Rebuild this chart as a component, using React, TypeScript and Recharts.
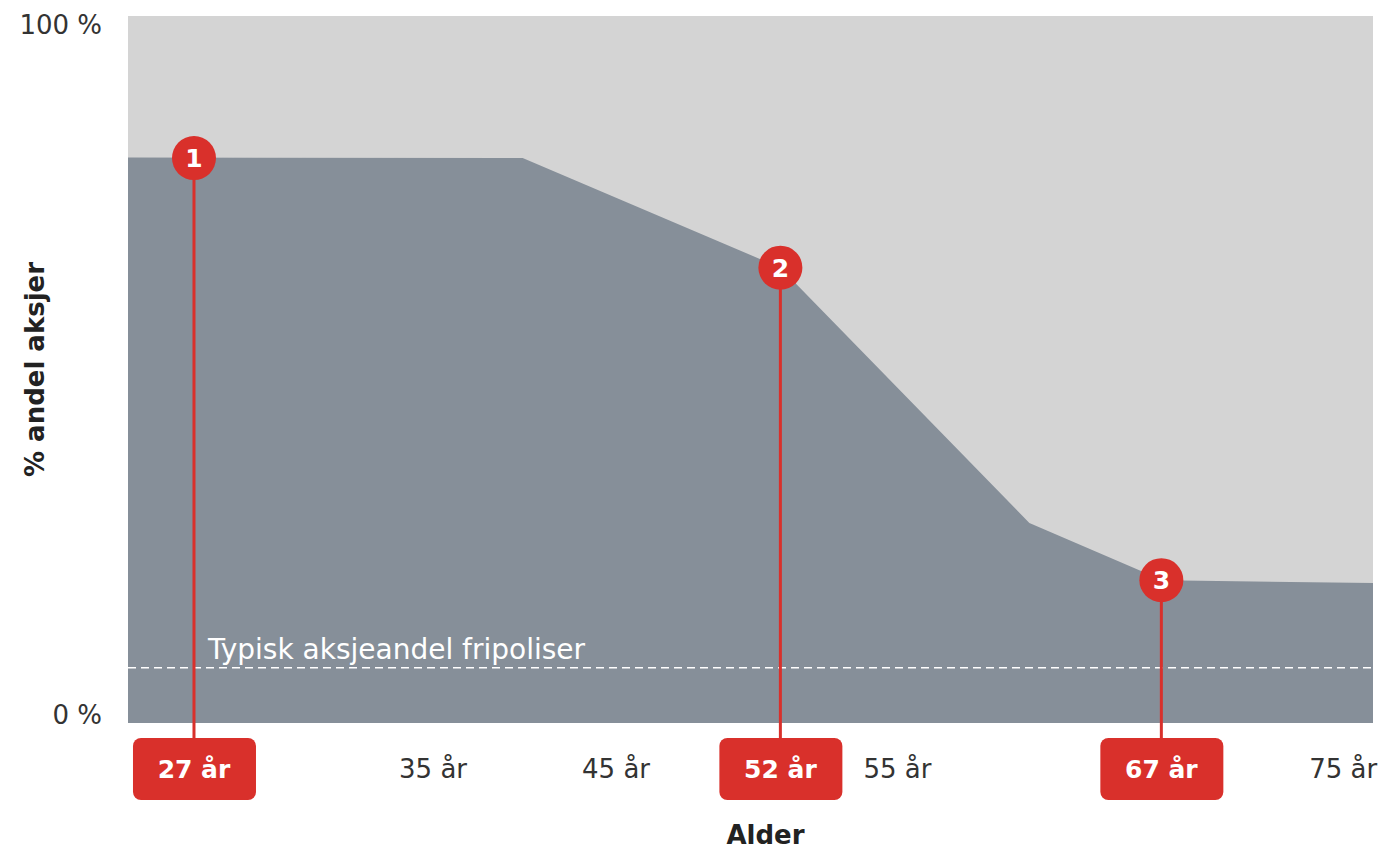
import React from 'react'
import {
  ComposedChart,
  Area,
  XAxis,
  YAxis,
  ReferenceArea,
  ReferenceLine,
  ReferenceDot,
  Label,
} from 'recharts'

// x is the position along the age axis (0-100 of the axis width)
const positions = [0, 31.7, 52.4, 72.4, 83.1, 100]
const equityShare = [80, 79.9, 64.4, 28.3, 20.2, 19.8]

const tickPositions = [5.3, 24.5, 39.2, 52.4, 61.8, 83.0, 97.6]
const tickLabels = ['27 år', '35 år', '45 år', '52 år', '55 år', '67 år', '75 år']
const highlightedTicks = ['27 år', '52 år', '67 år']

const milestoneLabels = ['1', '2', '3']
const milestonePositions = [5.3, 52.4, 83.0]
const milestoneShares = [79.9, 64.4, 20.2]

const freePolicyShare = 7.8

const RED = '#d9302b'
const FONT = '"DejaVu Sans", Verdana, sans-serif'

const data = positions.map((pos, i) => ({ pos, share: equityShare[i] }))

function AgeTick(props: any) {
  const { x, y, index } = props
  const label = tickLabels[index]
  if (highlightedTicks.includes(label)) {
    return (
      <g>
        <rect x={x - 61} y={y + 7} width={123} height={62} rx={8} fill={RED} />
        <text
          x={x}
          y={y + 38}
          textAnchor="middle"
          dominantBaseline="central"
          fill="#fff"
          fontSize={25}
          fontWeight="bold"
          fontFamily={FONT}
        >
          {label}
        </text>
      </g>
    )
  }
  return (
    <text
      x={x}
      y={y + 38}
      textAnchor="middle"
      dominantBaseline="central"
      fill="#333"
      fontSize={26}
      fontFamily={FONT}
    >
      {label}
    </text>
  )
}

function PercentTick(props: any) {
  const { y, payload } = props
  const dy = payload.value === 100 ? 9 : -8
  return (
    <text
      x={102}
      y={y + dy}
      textAnchor="end"
      dominantBaseline="central"
      fill="#333"
      fontSize={26}
      fontFamily={FONT}
    >
      {payload.value} %
    </text>
  )
}

export default function App() {
  return (
    <div style={{ position: 'absolute', top: 0, left: 0, width: 1384, height: 851, background: '#fff', fontFamily: FONT }}>
      <ComposedChart
        width={1384}
        height={851}
        data={data}
        margin={{ top: 16, right: 11, left: 8, bottom: 0 }}
      >
        <XAxis
          dataKey="pos"
          type="number"
          domain={[0, 100]}
          ticks={tickPositions}
          interval={0}
          axisLine={false}
          tickLine={false}
          height={128}
          tick={<AgeTick />}
        >
          <Label
            content={(p: any) => {
              const vb = p.viewBox
              return (
                <text
                  x={vb.x + vb.width / 2 + 15}
                  y={vb.y + vb.height - 7}
                  textAnchor="middle"
                  fill="#222"
                  fontSize={26}
                  fontWeight="bold"
                  fontFamily={FONT}
                >
                  Alder
                </text>
              )
            }}
          />
        </XAxis>
        <YAxis
          type="number"
          domain={[0, 100]}
          ticks={[0, 100]}
          axisLine={false}
          tickLine={false}
          width={120}
          tick={<PercentTick />}
        >
          <Label
            content={(p: any) => {
              const vb = p.viewBox
              const cy = vb.y + vb.height / 2
              return (
                <text
                  x={35}
                  y={cy}
                  transform={`rotate(-90 35 ${cy})`}
                  textAnchor="middle"
                  dominantBaseline="central"
                  fill="#222"
                  fontSize={26}
                  fontWeight="bold"
                  fontFamily={FONT}
                >
                  % andel aksjer
                </text>
              )
            }}
          />
        </YAxis>
        <ReferenceArea x1={0} x2={100} y1={0} y2={100} fill="#d4d4d4" fillOpacity={1} stroke="none" />
        <Area
          type="linear"
          dataKey="share"
          stroke="none"
          fill="#868f99"
          fillOpacity={1}
          isAnimationActive={false}
          dot={false}
          activeDot={false}
        />
        <ReferenceLine
          y={freePolicyShare}
          stroke="#ffffff"
          strokeWidth={1.5}
          strokeDasharray="8 5"
          label={(p: any) => {
            const vb = p.viewBox
            return (
              <text x={vb.x + 80} y={vb.y - 9} fill="#fff" fontSize={28} fontFamily={FONT}>
                Typisk aksjeandel fripoliser
              </text>
            )
          }}
        />
        {milestoneLabels.map((m, i) => (
          <ReferenceLine
            key={`line-${m}`}
            segment={[
              { x: milestonePositions[i], y: milestoneShares[i] },
              { x: milestonePositions[i], y: -2.2 },
            ]}
            stroke={RED}
            strokeWidth={3}
            ifOverflow="visible"
          />
        ))}
        {milestoneLabels.map((m, i) => (
          <ReferenceDot
            key={`dot-${m}`}
            x={milestonePositions[i]}
            y={milestoneShares[i]}
            r={22}
            fill={RED}
            stroke="none"
            ifOverflow="visible"
            label={{ value: m, position: 'center', fill: '#fff', fontSize: 25, fontWeight: 'bold', fontFamily: FONT }}
          />
        ))}
      </ComposedChart>
    </div>
  )
}
